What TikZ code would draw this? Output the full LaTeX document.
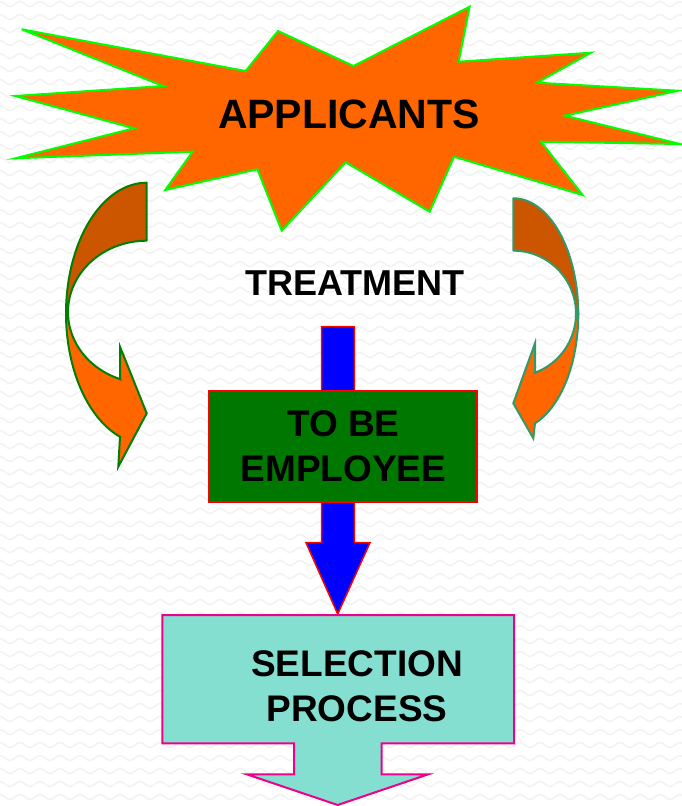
\documentclass[tikz,border=0pt]{standalone}
\usepackage{fontspec}
\setmainfont{Liberation Sans}
\definecolor{burst}{HTML}{FF6600}
\definecolor{burstline}{HTML}{00FF00}
\definecolor{backorange}{HTML}{CC5500}
\definecolor{leftline}{HTML}{008000}
\definecolor{rightline}{HTML}{339966}
\definecolor{boxgreen}{HTML}{007800}
\definecolor{teal}{RGB}{132,223,208}
\definecolor{wave}{RGB}{242,242,242}
\begin{document}
\begin{tikzpicture}[x=1pt,y=-1pt,
  bgwave/.style={draw=wave,line width=1.5pt},
  burstshape/.style={fill=burst,draw=burstline,line width=2pt,line join=miter},
  lback/.style={fill=backorange,draw=leftline,line width=2pt,line join=round},
  lfront/.style={fill=burst,draw=leftline,line width=2pt,line join=miter},
  rback/.style={fill=backorange,draw=rightline,line width=2pt,line join=round},
  rfront/.style={fill=burst,draw=rightline,line width=2pt,line join=miter},
  bluearrow/.style={fill=blue,draw=red,line width=1.5pt},
  greenbox/.style={fill=boxgreen,draw=red,line width=1.8pt,inner sep=0pt,align=center,
    font=\fontsize{37}{45}\selectfont\bfseries},
  selshape/.style={fill=teal,draw=magenta,line width=2pt},
  label/.style={inner sep=0pt,align=center,font=\fontsize{37}{45}\selectfont\bfseries}
]
\useasboundingbox[fill=white] (0,0) rectangle (682,806);
% background waves
\foreach \r in {0,...,62}{
  \draw[bgwave] (-5,{13*\r+4}) \foreach \p in {0,...,35}{ sin ++(5,-2.5) cos ++(5,2.5) sin ++(5,2.5) cos ++(5,-2.5) };
}
% starburst
\draw[burstshape] (21.7,29.3) -- (245.6,71) -- (278,31) -- (353.5,66) -- (469.6,6.7)
  -- (458.7,61.7) -- (591,52.7) -- (537,82.7) -- (678,90.7) -- (565,115.7)
  -- (680,144) -- (541,141.7) -- (582.6,195) -- (454,156.7) -- (429.6,211.7)
  -- (345.7,162.3) -- (281.7,230.7) -- (257.4,169.3) -- (165.2,190) -- (192.6,151.7)
  -- (15.2,158.3) -- (134,128.3) -- (15.2,96) -- (163,86) -- cycle;
\node[inner sep=0pt,anchor=base,font=\fontsize{41}{49}\selectfont\bfseries] (applicants) at (349,128.3) {APPLICANTS};
% left curved arrow
\draw[lback] plot[domain=90:180,samples=40,variable=\t] ({146.7+80.7*cos(\t)},{313.4-130.7*sin(\t)})
  -- plot[domain=180:90,samples=40,variable=\t] ({146.7+78.7*cos(\t)},{312-71.3*sin(\t)}) -- cycle;
\draw[lfront] plot[domain=180:250.7,samples=40,variable=\t] ({146.7+80.7*cos(\t)},{313.4-130.7*sin(\t)})
  -- (118.3,466.7) -- (146.7,413.3) -- (120,346.7) -- (120,379)
  -- plot[domain=250.2:180,samples=40,variable=\t] ({146.7+78.7*cos(\t)},{312-71.3*sin(\t)}) -- cycle;
% right curved arrow
\draw[rback] plot[domain=90:0,samples=40,variable=\t] ({513.3+65*cos(\t)},{314.1-115.8*sin(\t)})
  -- plot[domain=0:90,samples=40,variable=\t] ({513.3+62.7*cos(\t)},{313.6-62.95*sin(\t)}) -- cycle;
\draw[rfront] plot[domain=0:-70.5,samples=40,variable=\t] ({513.3+65*cos(\t)},{314.1-115.8*sin(\t)})
  -- (533.3,438.3) -- (513.3,403.3) -- (535,343.3) -- (535,372.7)
  -- plot[domain=-69.8:0,samples=40,variable=\t] ({513.3+62.7*cos(\t)},{313.6-62.95*sin(\t)}) -- cycle;
% treatment
\node[inner sep=0pt,anchor=base,font=\fontsize{36}{43}\selectfont\bfseries] (treatment) at (355,295) {TREATMENT};
% blue arrow
\draw[bluearrow] (321.7,326.7) -- (354.3,326.7) -- (354.3,542.7) -- (370,542.7)
  -- (337.7,614) -- (306,542.7) -- (321.7,542.7) -- cycle;
% green box
\node[greenbox,minimum width=268pt,minimum height=110.7pt] (tobe) at (343.3,446.3) {TO BE\\EMPLOYEE};
% selection process shape
\draw[selshape] (162.3,615) -- (514,615) -- (514,743.3) -- (381.7,743.3) -- (381.7,774.3)
  -- (428.3,774.3) -- (337.7,805) -- (246.7,774.3) -- (294,774.3) -- (294,743.3)
  -- (162.3,743.3) -- cycle;
\node[label] (selection) at (357,686) {SELECTION\\PROCESS};
\end{tikzpicture}
\end{document}
